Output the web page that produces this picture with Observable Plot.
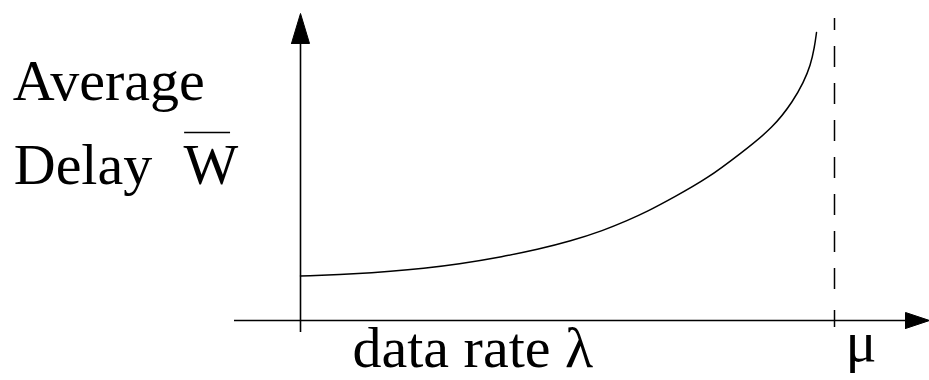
<!DOCTYPE html>
<html>
<head>
<meta charset="utf-8">
<script src="https://cdn.jsdelivr.net/npm/d3@7"></script>
<script src="https://cdn.jsdelivr.net/npm/@observablehq/plot@0.6"></script>
<style>
  html, body { margin: 0; padding: 0; background: #fff; }
  #chart svg { display: block; overflow: visible; }
  #chart svg text { font-family: "Liberation Serif", "Times New Roman", serif; }
</style>
</head>
<body>
<div id="chart"></div>
<script>
// Data: x = λ/μ, y = average delay in units of W(0)
const rate = [0, 0.1067, 0.1685, 0.2303, 0.2940, 0.3801, 0.4438, 0.5056, 0.5674, 0.6124, 0.6498, 0.6985, 0.7622, 0.8240, 0.8858, 0.9232, 0.9419, 0.9551, 0.9625, 0.9663];
const delay = [0.989, 1.038, 1.093, 1.160, 1.249, 1.422, 1.578, 1.762, 2.0, 2.222, 2.422, 2.733, 3.156, 3.711, 4.289, 4.889, 5.289, 5.667, 6.067, 6.4];
const mu = 1;
const yLabelLines = ["Average", "Delay"];
const yLabelSymbol = "W";
const xLabel = "data rate λ";
const muLabel = "μ";

const curve = rate.map((r, i) => ({x: r, y: delay[i]}));

// axis geometry (data units)
const yAxisBottom = -0.267, yAxisHeadBase = 6.156, yAxisTip = 6.822, headHalfX = 0.0169;
const xAxisLeft = -0.1236, xAxisHeadBase = 1.133, xAxisTip = 1.178, headHalfY = 0.178;

const yHead = [{x: -headHalfX, y: yAxisHeadBase}, {x: 0, y: yAxisTip}, {x: headHalfX, y: yAxisHeadBase}, {x: -headHalfX, y: yAxisHeadBase}];
const xHead = [{x: xAxisHeadBase, y: -headHalfY}, {x: xAxisTip, y: 0}, {x: xAxisHeadBase, y: headHalfY}, {x: xAxisHeadBase, y: -headHalfY}];

const font = "Liberation Serif";
const fs = 58;

const chart = Plot.plot({
  width: 929,
  height: 380,
  margin: 0,
  x: {type: "linear", domain: [0, 1], range: [300, 834], axis: null},
  y: {type: "linear", domain: [0, 1], range: [320, 275], axis: null},
  style: {background: "#fff"},
  marks: [
    // axes
    Plot.ruleX([0], {y1: yAxisBottom, y2: yAxisHeadBase, stroke: "#000", strokeWidth: 1.6}),
    Plot.ruleY([0], {x1: xAxisLeft, x2: xAxisHeadBase, stroke: "#000", strokeWidth: 1.6}),
    Plot.line(yHead, {x: "x", y: "y", fill: "#000", stroke: "#000", strokeWidth: 1}),
    Plot.line(xHead, {x: "x", y: "y", fill: "#000", stroke: "#000", strokeWidth: 1}),
    // asymptote at μ
    Plot.ruleX([mu], {y1: 6.711, y2: 0.36, stroke: "#000", strokeWidth: 1.5, strokeDasharray: "21,16", strokeDashoffset: 9}),
    Plot.ruleX([mu], {y1: 0.222, y2: -0.156, stroke: "#000", strokeWidth: 1.5}),
    // delay curve
    Plot.line(curve, {x: "x", y: "y", stroke: "#000", strokeWidth: 1.5, curve: "basis"}),
    // labels
    Plot.text([yLabelLines[0]], {x: -0.539, y: 4.889, text: d => d, textAnchor: "start", lineAnchor: "bottom", fontSize: fs, fontFamily: font, fill: "#000"}),
    Plot.text([yLabelLines[1]], {x: -0.537, y: 3.044, text: d => d, textAnchor: "start", lineAnchor: "bottom", fontSize: fs, fontFamily: font, fill: "#000"}),
    Plot.text([yLabelSymbol], {x: -0.219, y: 3.044, text: d => d, textAnchor: "start", lineAnchor: "bottom", fontSize: fs, fontFamily: font, fill: "#000"}),
    Plot.ruleY([4.178], {x1: -0.217, x2: -0.131, stroke: "#000", strokeWidth: 1.6}),
    Plot.text([xLabel], {x: 0.0974, y: -1.044, text: d => d, textAnchor: "start", lineAnchor: "bottom", fontSize: fs, fontFamily: font, fill: "#000"}),
    Plot.text([muLabel], {x: 1.0206, y: -0.889, text: d => d, textAnchor: "start", lineAnchor: "bottom", fontSize: fs, fontFamily: font, fill: "#000"})
  ]
});
document.getElementById("chart").appendChild(chart);
</script>
</body>
</html>
